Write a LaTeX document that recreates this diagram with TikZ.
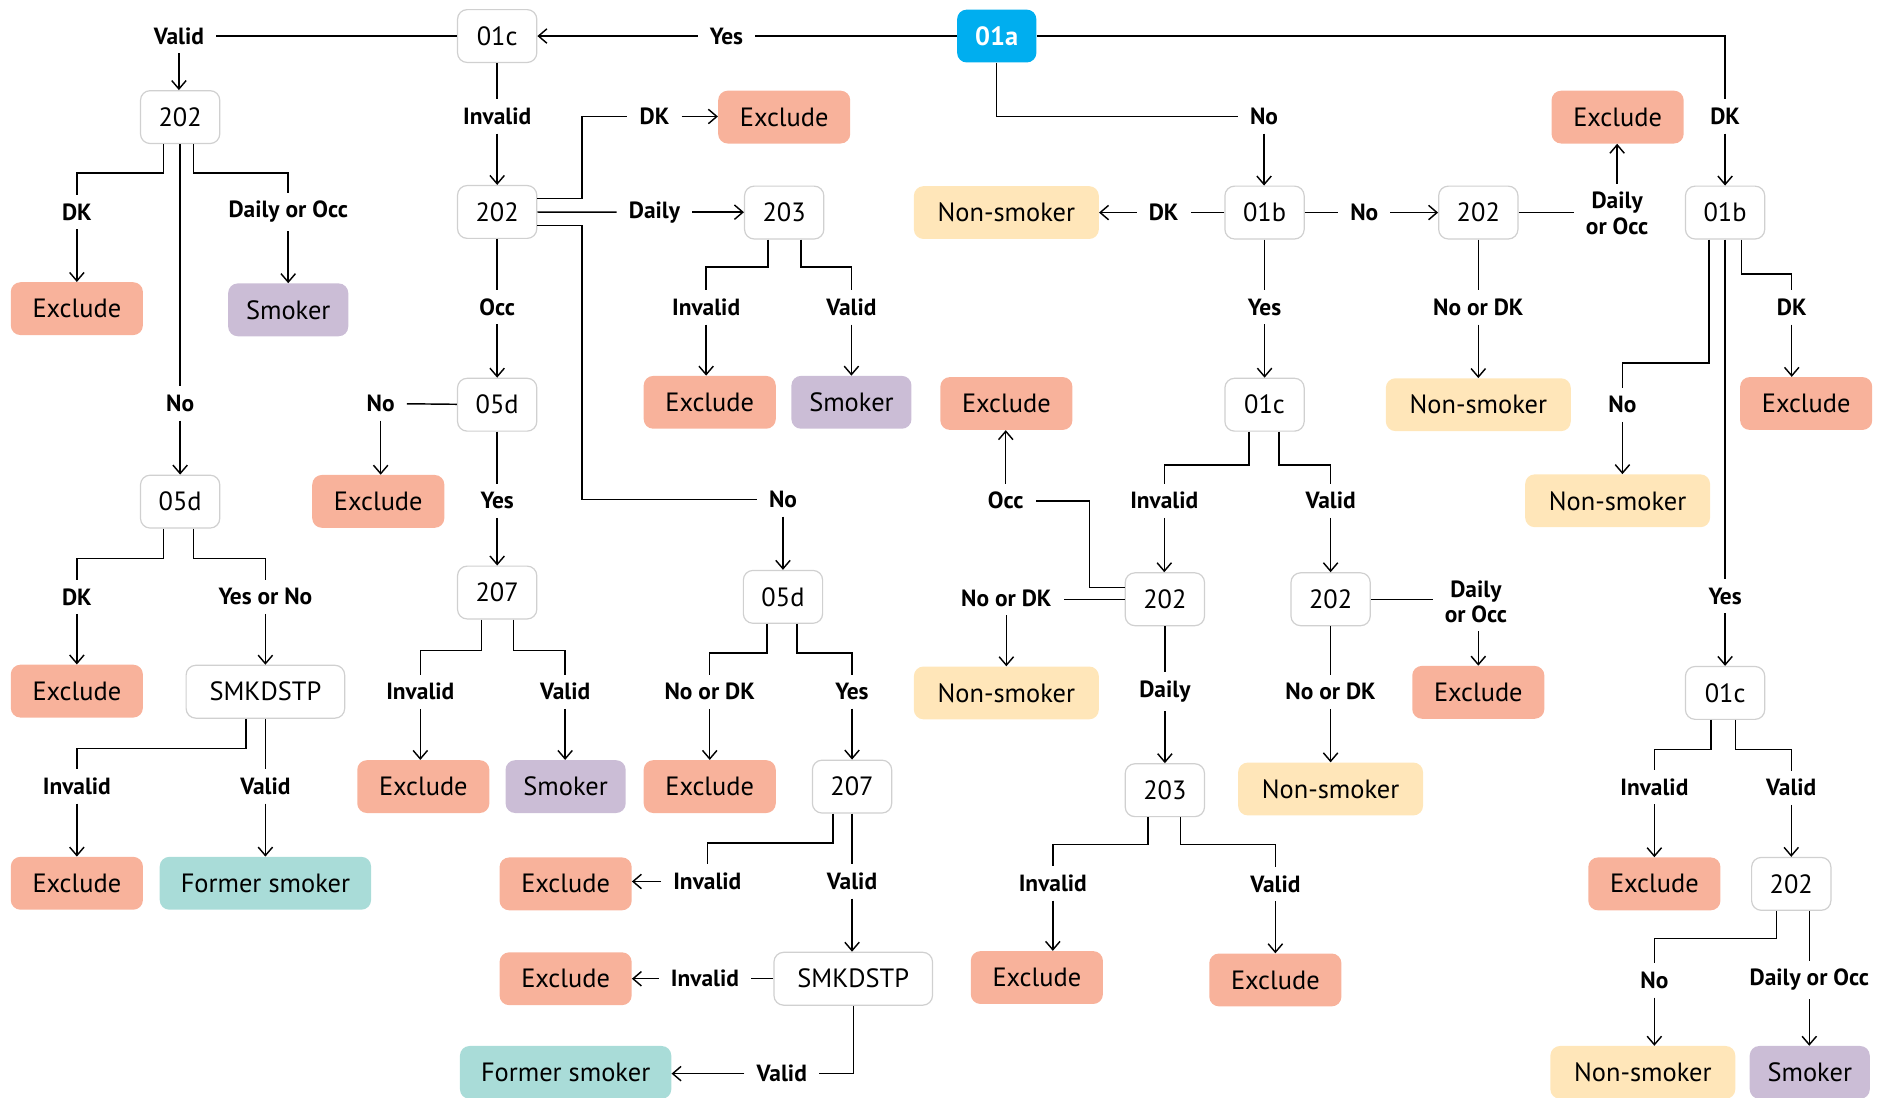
\documentclass[tikz,border=0pt]{standalone}
\usepackage{fontspec}
\setmainfont{PT Sans}
\usetikzlibrary{arrows.meta,calc}
\definecolor{cex}{HTML}{F8B29B}
\definecolor{csm}{HTML}{CBBDD6}
\definecolor{cns}{HTML}{FFE6B9}
\definecolor{cfs}{HTML}{A9DCD8}
\definecolor{cblue}{HTML}{00AEEF}
\definecolor{cbord}{HTML}{D0D0D0}
\begin{document}
\begin{tikzpicture}[x=1pt,y=-1pt,
  every node/.style={font=\fontsize{22}{26}\selectfont},
  qbox/.style={draw=cbord, line width=1pt, fill=white, rounded corners=8pt, minimum width=66pt, minimum height=44pt, inner sep=0pt},
  obox/.style={rounded corners=8pt, minimum height=44pt, inner sep=0pt},
  exb/.style={obox, fill=cex, minimum width=110pt},
  smb/.style={obox, fill=csm, minimum width=100pt},
  nsb/.style={obox, fill=cns, minimum width=154pt},
  fsb/.style={obox, fill=cfs, minimum width=176pt},
  lbl/.style={font=\bfseries\fontsize{19.5}{21}\selectfont, inner xsep=10pt, inner ysep=7pt, align=center},
  ln/.style={line width=1.2pt},
  arr/.style={ln, -{Straight Barb[length=7pt,width=12pt]}},
]
\useasboundingbox (0,0) rectangle (1568,914);
% ---------- question boxes ----------
\node[qbox] (q01c_a) at (414,30) {01c};
\node[obox, fill=cblue, text=white, minimum width=66pt, font=\bfseries\fontsize{22}{26}\selectfont] (q01a) at (830,30) {01a};
\node[qbox] (q202_a) at (150,97.5) {202};
\node[qbox] (q202_b) at (414,176.5) {202};
\node[qbox] (q203_a) at (653,177) {203};
\node[qbox] (q01b_a) at (1053,177) {01b};
\node[qbox] (q202_c) at (1231,177) {202};
\node[qbox] (q01b_b) at (1436.5,177) {01b};
\node[qbox] (q05d_a) at (414,337) {05d};
\node[qbox] (q01c_b) at (1053,337) {01c};
\node[qbox] (q05d_b) at (150,417.7) {05d};
\node[qbox] (q207_a) at (414,493.4) {207};
\node[qbox] (q05d_c) at (652,497) {05d};
\node[qbox] (q202_d) at (970,499) {202};
\node[qbox] (q202_e) at (1108,499) {202};
\node[qbox, minimum width=132pt] (qsmk_a) at (221,576) {SMKDSTP};
\node[qbox] (q01c_c) at (1436.5,577) {01c};
\node[qbox] (q207_b) at (709.5,655) {207};
\node[qbox] (q203_b) at (970,658) {203};
\node[qbox] (q202_f) at (1491.6,736) {202};
\node[qbox, minimum width=132pt] (qsmk_b) at (710.5,815) {SMKDSTP};
% ---------- outcome boxes ----------
\node[exb] (ex1) at (64,257) {Exclude};
\node[smb] (sm1) at (240,258) {Smoker};
\node[exb] (ex2) at (653,97.5) {Exclude};
\node[exb] (ex3) at (1347,97.5) {Exclude};
\node[nsb] (ns1) at (838,177) {Non-smoker};
\node[exb] (ex4) at (591,335) {Exclude};
\node[smb] (sm2) at (709,335) {Smoker};
\node[exb] (ex5) at (838,336) {Exclude};
\node[nsb] (ns2) at (1231,337) {Non-smoker};
\node[exb] (ex6) at (1504,336) {Exclude};
\node[exb] (ex7) at (315,417.5) {Exclude};
\node[nsb] (ns3) at (1347,417) {Non-smoker};
\node[exb] (ex8) at (64,575.5) {Exclude};
\node[nsb] (ns4) at (838,577) {Non-smoker};
\node[exb] (ex9) at (1231,576.5) {Exclude};
\node[exb] (ex10) at (352.5,655) {Exclude};
\node[smb] (sm3) at (471,655) {Smoker};
\node[exb] (ex11) at (591,655) {Exclude};
\node[nsb] (ns5) at (1108,657) {Non-smoker};
\node[exb] (ex12) at (64,735.5) {Exclude};
\node[fsb] (fs1) at (221,735.5) {Former smoker};
\node[exb] (ex13) at (471,736) {Exclude};
\node[exb] (ex14) at (1377.6,736) {Exclude};
\node[exb] (ex15) at (863.4,814) {Exclude};
\node[exb] (ex16) at (1062,816) {Exclude};
\node[exb] (ex17) at (471,815) {Exclude};
\node[fsb] (fs2) at (471,893) {Former smoker};
\node[nsb] (ns6) at (1368,893) {Non-smoker};
\node[smb] (sm4) at (1507,893) {Smoker};
% ---------- labels ----------
\node[lbl] (l_valid1) at (149,30) {Valid};
\node[lbl] (l_yes1) at (605,30) {Yes};
\node[lbl] (l_invalid1) at (414,97) {Invalid};
\node[lbl] (l_dk1) at (545,97) {DK};
\node[lbl] (l_no1) at (1052.6,97) {No};
\node[lbl] (l_dk2) at (1436.5,97) {DK};
\node[lbl] (l_dk3) at (64,176.5) {DK};
\node[lbl] (l_dor1) at (240,176.5) {Daily or Occ};
\node[lbl] (l_daily1) at (545,176.7) {Daily};
\node[lbl] (l_dk4) at (969,177) {DK};
\node[lbl] (l_no2) at (1136,177) {No};
\node[lbl] (l_dor2) at (1346.6,177.6) {Daily\\or Occ};
\node[lbl] (l_occ1) at (414,255.5) {Occ};
\node[lbl] (l_inv2) at (588,256) {Invalid};
\node[lbl] (l_val2) at (709,256) {Valid};
\node[lbl] (l_yes2) at (1053,256) {Yes};
\node[lbl] (l_nodk1) at (1231,256) {No or DK};
\node[lbl] (l_dk5) at (1492,256) {DK};
\node[lbl] (l_no3) at (150,336) {No};
\node[lbl] (l_no4) at (317,336) {No};
\node[lbl] (l_no5) at (1351,337) {No};
\node[lbl] (l_yes3) at (414,417) {Yes};
\node[lbl] (l_no6) at (652,416) {No};
\node[lbl] (l_occ2) at (837.5,417) {Occ};
\node[lbl] (l_inv3) at (969.5,417) {Invalid};
\node[lbl] (l_val3) at (1108,417) {Valid};
\node[lbl] (l_dk6) at (64,497) {DK};
\node[lbl] (l_yon) at (221,497) {Yes or No};
\node[lbl] (l_nodk2) at (838,498) {No or DK};
\node[lbl] (l_dor3) at (1229,501) {Daily\\or Occ};
\node[lbl] (l_yes4) at (1436.5,496.3) {Yes};
\node[lbl] (l_inv4) at (350,576) {Invalid};
\node[lbl] (l_val4) at (470.6,576) {Valid};
\node[lbl] (l_nodk3) at (591,576) {No or DK};
\node[lbl] (l_yes5) at (709.5,576) {Yes};
\node[lbl] (l_daily2) at (970,576) {Daily};
\node[lbl] (l_nodk4) at (1108,576) {No or DK};
\node[lbl] (l_inv5) at (64,655) {Invalid};
\node[lbl] (l_val5) at (221,655) {Valid};
\node[lbl] (l_inv6) at (1377.6,655.5) {Invalid};
\node[lbl] (l_val6) at (1491.6,656) {Valid};
\node[lbl] (l_inv7) at (589,734) {Invalid};
\node[lbl] (l_val7) at (709.5,734) {Valid};
\node[lbl] (l_inv8) at (876.7,735.6) {Invalid};
\node[lbl] (l_val8) at (1062,736) {Valid};
\node[lbl] (l_inv9) at (587,815) {Invalid};
\node[lbl] (l_no7) at (1377.6,816.5) {No};
\node[lbl] (l_dor4) at (1506.6,816) {Daily or Occ};
\node[lbl] (l_val9) at (651,894) {Valid};
% ---------- connectors ----------
% top row
\draw[ln] (q01a) -- (l_yes1);
\draw[arr] (l_yes1) -- (q01c_a);
\draw[ln] (q01c_a) -- (l_valid1);
\draw[arr] (l_valid1) -- (l_valid1 |- q202_a.north);
\draw[ln] (q01c_a) -- (l_invalid1);
\draw[arr] (l_invalid1) -- (q202_b);
\draw[ln] (q01a) |- (l_no1);
\draw[arr] (l_no1) -- (l_no1 |- q01b_a.north);
\draw[ln] (q01a) -| (l_dk2);
\draw[arr] (l_dk2) -- (q01b_b);
% 202 (left)
\draw[ln] ([xshift=-14pt]q202_a.south) -- ++(0,24) -| (l_dk3.north);
\draw[arr] (l_dk3) -- (ex1);
\draw[ln] ([xshift=11pt]q202_a.south) -- ++(0,24) -| (l_dor1.north);
\draw[arr] (l_dor1) -- (l_dor1 |- sm1.north);
\draw[ln] (q202_a) -- (l_no3);
\draw[arr] (l_no3) -- (q05d_b);
% 05d (left)
\draw[ln] ([xshift=-14pt]q05d_b.south) -- ++(0,25) -| (l_dk6.north);
\draw[arr] (l_dk6) -- (l_dk6 |- ex8.north);
\draw[ln] ([xshift=11pt]q05d_b.south) -- ++(0,25) -| (l_yon.north);
\draw[arr] (l_yon) -- (qsmk_a);
% SMKDSTP (left)
\draw[ln] ([xshift=-16pt]qsmk_a.south) -- ++(0,24.6) -| (l_inv5.north);
\draw[arr] (l_inv5) -- (l_inv5 |- ex12.north);
\draw[ln] (qsmk_a) -- (l_val5);
\draw[arr] (l_val5) -- (fs1);
% 202 (middle)
\draw[ln] ([yshift=11pt]q202_b.east) -- ++(37,0) |- (l_dk1.west);
\draw[arr] (l_dk1) -- (l_dk1 -| ex2.west);
\draw[ln] (q202_b) -- (l_daily1);
\draw[arr] (l_daily1) -- (l_daily1 -| q203_a.west);
\draw[ln] ([yshift=-11.5pt]q202_b.east) -- ++(37,0) |- (l_no6.west);
\draw[arr] (l_no6) -- (q05d_c);
\draw[ln] (q202_b) -- (l_occ1);
\draw[arr] (l_occ1) -- (q05d_a);
% 203 (top)
\draw[ln] ([xshift=-13.5pt]q203_a.south) -- ++(0,23) -| (l_inv2.north);
\draw[arr] (l_inv2) -- (l_inv2 |- ex4.north);
\draw[ln] ([xshift=14pt]q203_a.south) -- ++(0,23) -| (l_val2.north);
\draw[arr] (l_val2) -- (l_val2 |- sm2.north);
% 05d (middle)
\draw[ln] (q05d_a) -- (l_no4);
\draw[arr] (l_no4) -- (l_no4 |- ex7.north);
\draw[ln] (q05d_a) -- (l_yes3);
\draw[arr] (l_yes3) -- (q207_a);
% 207 (middle)
\draw[ln] ([xshift=-13pt]q207_a.south) -- ++(0,26) -| (l_inv4.north);
\draw[arr] (l_inv4) -- (l_inv4 |- ex10.north);
\draw[ln] ([xshift=13.4pt]q207_a.south) -- ++(0,26) -| (l_val4.north);
\draw[arr] (l_val4) -- (l_val4 |- sm3.north);
% 05d (right of middle)
\draw[ln] ([xshift=-13.5pt]q05d_c.south) -- ++(0,24.4) -| (l_nodk3.north);
\draw[arr] (l_nodk3) -- (ex11);
\draw[ln] ([xshift=11.7pt]q05d_c.south) -- ++(0,24.4) -| (l_yes5.north);
\draw[arr] (l_yes5) -- (q207_b);
% 207 (lower)
\draw[ln] ([xshift=-16pt]q207_b.south) -- ++(0,24.4) -| (l_inv7.north);
\draw[arr] (l_inv7) -- (l_inv7 -| ex13.east);
\draw[ln] (q207_b) -- (l_val7);
\draw[arr] (l_val7) -- (l_val7 |- qsmk_b.north);
% SMKDSTP (lower)
\draw[ln] (qsmk_b) -- (qsmk_b -| l_inv9.east);
\draw[arr] (l_inv9) -- (l_inv9 -| ex17.east);
\draw[ln] (qsmk_b) |- (l_val9);
\draw[arr] (l_val9) -- (l_val9 -| fs2.east);
% 01b (middle)
\draw[ln] (q01b_a) -- (l_dk4);
\draw[arr] (l_dk4) -- (l_dk4 -| ns1.east);
\draw[ln] (q01b_a) -- (l_no2);
\draw[arr] (l_no2) -- (l_no2 -| q202_c.west);
\draw[ln] (q01b_a) -- (l_yes2);
\draw[arr] (l_yes2) -- (q01c_b);
% 202 (right)
\draw[ln] (q202_c) -- (q202_c -| l_dor2.west);
\draw[arr] (l_dor2) -- (l_dor2 |- ex3.south);
\draw[ln] (q202_c) -- (l_nodk1);
\draw[arr] (l_nodk1) -- (ns2);
% 01b (right)
\draw[ln] ([xshift=-13.5pt]q01b_b.south) -- ++(0,102.6) -| (l_no5.north);
\draw[arr] (l_no5) -- (l_no5 |- ns3.north);
\draw[ln] (q01b_b) -- (l_yes4);
\draw[arr] (l_yes4) -- (q01c_c);
\draw[ln] ([xshift=13.5pt]q01b_b.south) -- ++(0,28.6) -| (l_dk5.north);
\draw[arr] (l_dk5) -- (l_dk5 |- ex6.north);
% 01c (middle right)
\draw[ln] ([xshift=-13pt]q01c_b.south) -- ++(0,27.8) -| (l_inv3.north);
\draw[arr] (l_inv3) -- (l_inv3 |- q202_d.north);
\draw[ln] ([xshift=12pt]q01c_b.south) -- ++(0,27.8) -| (l_val3.north);
\draw[arr] (l_val3) -- (q202_e);
% 202 (lower middle)
\draw[ln] ([yshift=10pt]q202_d.west) -- ++(-29.4,0) |- (l_occ2.east);
\draw[arr] (l_occ2) -- (l_occ2 |- ex5.south);
\draw[ln] (q202_d) -- (q202_d -| l_nodk2.east);
\draw[arr] (l_nodk2) -- (l_nodk2 |- ns4.north);
\draw[ln] (q202_d) -- (l_daily2);
\draw[arr] (l_daily2) -- (q203_b);
% 202 (lower right)
\draw[ln] (q202_e) -- (q202_e -| l_dor3.west);
\draw[arr] (l_dor3.south -| ex9) -- (ex9);
\draw[ln] (q202_e) -- (l_nodk4);
\draw[arr] (l_nodk4) -- (ns5);
% 203 (lower)
\draw[ln] ([xshift=-14pt]q203_b.south) -- ++(0,22.8) -| (l_inv8.north);
\draw[arr] (l_inv8) -- (l_inv8 |- ex15.north);
\draw[ln] ([xshift=13pt]q203_b.south) -- ++(0,22.8) -| (l_val8.north);
\draw[arr] (l_val8) -- (ex16);
% 01c (right)
\draw[ln] ([xshift=-11.7pt]q01c_c.south) -- ++(0,24.8) -| (l_inv6.north);
\draw[arr] (l_inv6) -- (ex14);
\draw[ln] ([xshift=8.8pt]q01c_c.south) -- ++(0,24.8) -| (l_val6.north);
\draw[arr] (l_val6) -- (q202_f);
% 202 (bottom right)
\draw[ln] ([xshift=-12.2pt]q202_f.south) -- ++(0,23) -| (l_no7.north);
\draw[arr] (l_no7) -- (l_no7 |- ns6.north);
\draw[ln] (l_dor4.north |- q202_f.south) -- (l_dor4.north);
\draw[arr] (l_dor4) -- (l_dor4 |- sm4.north);
\end{tikzpicture}
\end{document}
